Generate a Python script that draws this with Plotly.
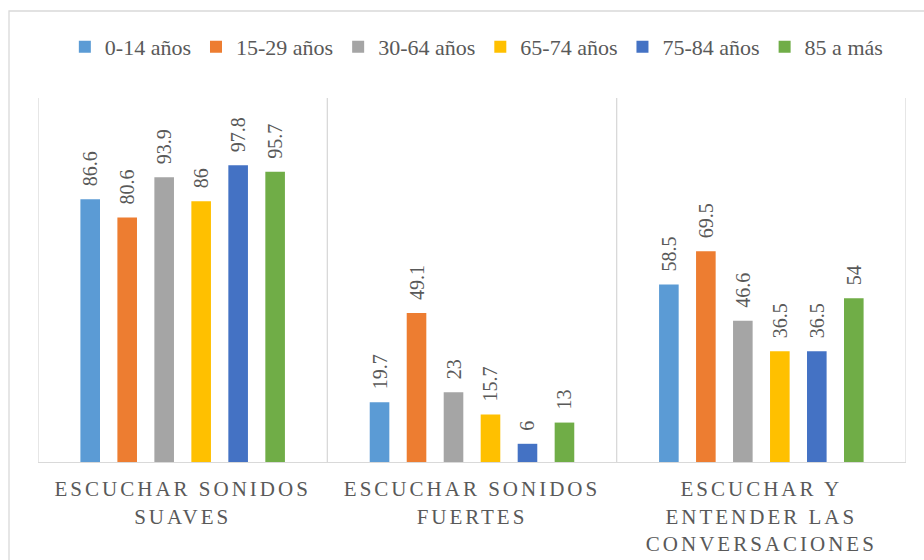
import plotly.graph_objects as go

categories = ["ESCUCHAR SONIDOS<br>SUAVES", "ESCUCHAR SONIDOS<br>FUERTES", "ESCUCHAR Y<br>ENTENDER LAS<br>CONVERSACIONES"]
series_names = ["0-14 años", "15-29 años", "30-64 años", "65-74 años", "75-84 años", "85 a más"]
v_0_14 = [86.6, 19.7, 58.5]
v_15_29 = [80.6, 49.1, 69.5]
v_30_64 = [93.9, 23, 46.6]
v_65_74 = [86, 15.7, 36.5]
v_75_84 = [97.8, 6, 36.5]
v_85 = [95.7, 13, 54]
colors = ["#5B9BD5", "#ED7D31", "#A5A5A5", "#FFC000", "#4472C4", "#70AD47"]

series_values = [v_0_14, v_15_29, v_30_64, v_65_74, v_75_84, v_85]
FONT = "Liberation Serif"
GRAY = "#595959"
LINE = "#d9d9d9"

fig = go.Figure()
for name, vals, col in zip(series_names, series_values, colors):
    fig.add_trace(go.Bar(
        name=name, x=list(range(len(categories))), y=vals,
        marker=dict(color=col, line=dict(width=0)),
        texttemplate="\u00a0\u00a0%{y}", textposition="outside", textangle=-90,
        constraintext="none",
        textfont=dict(family=FONT, size=20, color=GRAY),
        cliponaxis=False,
    ))

shapes = []
for i in range(len(categories) + 1):
    shapes.append(dict(type="line", xref="x", yref="paper", x0=i - 0.5, x1=i - 0.5,
                       y0=0, y1=1, line=dict(color=LINE, width=1.3), layer="below"))
shapes.append(dict(type="rect", xref="paper", yref="paper", x0=-0.0334, x1=1.03,
                   y0=-0.3, y1=1.239, line=dict(color=LINE, width=1.3), layer="below"))

fig.update_layout(
    width=924, height=560,
    margin=dict(l=38, r=18, t=98, b=98, autoexpand=False),
    paper_bgcolor="white", plot_bgcolor="white",
    barmode="group", bargap=0.233, bargroupgap=0.47,
    font=dict(family=FONT, color=GRAY),
    showlegend=True,
    legend=dict(orientation="h", x=0.505, xanchor="center", y=1.14, yanchor="middle",
                font=dict(family=FONT, size=22, color=GRAY), itemwidth=30,
                traceorder="normal"),
    xaxis=dict(tickmode="array", tickvals=list(range(len(categories))), ticktext=categories,
               range=[-0.5, len(categories) - 0.5], showgrid=False, zeroline=False,
               showline=True, linecolor=LINE, linewidth=1.3, tickangle=0,
               tickfont=dict(family=FONT, size=21, color=GRAY), ticks="",
               ticklabelstandoff=8, automargin=False),
    yaxis=dict(range=[0, 120], visible=False, showgrid=False, zeroline=False,
               automargin=False),
    shapes=shapes,
)

post = """
document.body.style.margin = '0';
document.documentElement.style.margin = '0';
var s = document.createElement('style');
s.textContent = '.xtick text { letter-spacing: 3px; }';
document.head.appendChild(s);
"""
fig.write_html("out.html", post_script=post, config={"displayModeBar": False})
